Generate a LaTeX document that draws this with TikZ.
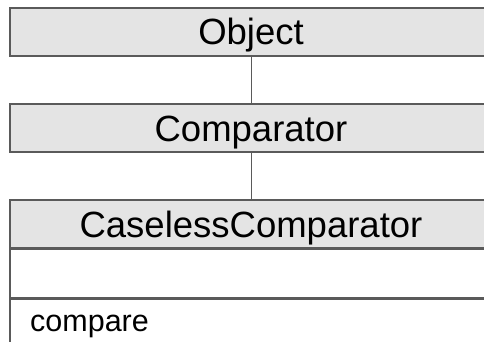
\documentclass[tikz,border=0pt]{standalone}
\usepackage{fontspec}
\setmainfont{Liberation Sans}
\usetikzlibrary{positioning}

\definecolor{boxline}{HTML}{5A5A5A}
\definecolor{boxfill}{HTML}{E4E4E4}

\begin{document}
\begin{tikzpicture}[x=1pt,y=-1pt,
    classbox/.style={draw=boxline,line width=1.4pt,fill=boxfill,inner sep=0pt,
      minimum width=482pt,minimum height=48pt,text height=26pt,text depth=0pt,
      font=\fontsize{36.5}{40}\selectfont},
    partbox/.style={draw=boxline,line width=1.4pt,fill=white,inner sep=0pt,
      minimum width=482pt,minimum height=48pt},
    link/.style={draw=boxline,line width=0.9pt}]
  \useasboundingbox (0,0) rectangle (484,342);
  \node[classbox] (object) at (251,32) {Object};
  \node[classbox] (comparator) at (251,128) {Comparator};
  \node[classbox] (caseless) at (251,224) {CaselessComparator};
  \node[partbox,anchor=north] (attrs) at (caseless.south) {};
  \node[partbox,anchor=north,minimum height=60pt] (ops) at (attrs.south) {};
  \node[anchor=base west,inner sep=0pt,font=\fontsize{30.5}{34}\selectfont] (compare) at (30,331) {compare};
  \draw[link] (object) -- (comparator);
  \draw[link] (comparator) -- (caseless);
\end{tikzpicture}
\end{document}
